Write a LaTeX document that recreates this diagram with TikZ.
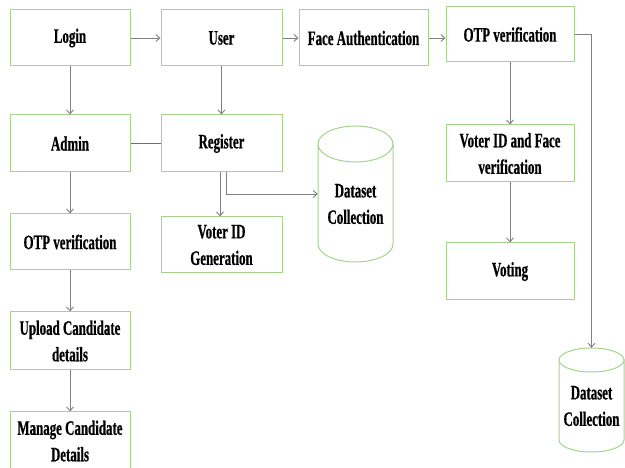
\documentclass[tikz,border=0pt]{standalone}
\usepackage{fontspec}
\setmainfont{Liberation Serif}[FakeStretch=0.63,BoldFeatures={FakeBold=0.6}]
\usetikzlibrary{arrows.meta,calc}
\definecolor{boxgreen}{HTML}{A9D18E}
\definecolor{linegray}{HTML}{808080}
\definecolor{darkgray}{HTML}{6F6F6F}
\begin{document}
\begin{tikzpicture}[x=1pt,y=1pt,
  box/.style={draw=boxgreen,line width=1pt,fill=white,minimum width=120pt,minimum height=56pt,inner sep=0pt,align=center,font=\bfseries\fontsize{20.5}{26.5}\selectfont},
  lbl/.style={inner sep=0pt,align=center,font=\bfseries\fontsize{20.5}{26.5}\selectfont},
  cylzone/.style={inner sep=0pt,minimum width=#1},
  cyl/.style={draw=boxgreen,line width=1pt,fill=white},
  arr/.style={draw=linegray,line width=0.9pt,-{Straight Barb[length=4pt,width=7pt]}},
  ln/.style={draw=darkgray,line width=1.1pt}]
\useasboundingbox (0,0) rectangle (625,-468);
\fill[white] (0,0) rectangle (625,-468);

% boxes
\node[box] (login) at (70,-38) {Login};
\node[box,minimum width=121pt] (user) at (221.5,-38) {User};
\node[box,minimum width=129pt] (face) at (363.5,-38) {Face Authentication};
\node[box,minimum width=128pt,minimum height=55pt] (otp2) at (510,-34.5) {OTP verification};
\node[box,minimum height=57pt] (admin) at (70,-143.5) {Admin};
\node[box,minimum width=121pt,minimum height=57pt] (register) at (221.5,-143.5) {Register};
\node[box,minimum width=121pt] (vid) at (221.5,-245) {Voter ID\\Generation};
\node[box] (otp1) at (70,-242) {OTP verification};
\node[box,minimum height=58pt] (upload) at (70,-341) {Upload Candidate\\details};
\node[box,minimum height=58pt] (manage) at (70,-441) {Manage Candidate\\Details};
\node[box,minimum width=128pt,minimum height=57pt] (vface) at (510,-153.5) {Voter ID and Face\\verification};
\node[box,minimum width=128pt,minimum height=57pt] (voting) at (510,-271.5) {Voting};

% cylinder 1 (x 318-393, y 126-262)
\node[cylzone=75pt,minimum height=136pt] (db1) at (355.5,-194) {};
\path[cyl] (318,-144) -- (318,-244) arc[start angle=180,end angle=360,x radius=37.5,y radius=18] -- (393,-144) -- cycle;
\draw[cyl] (355.5,-144) ellipse[x radius=37.5,y radius=18];
\node[lbl] (db1t) at (355.5,-204) {Dataset\\Collection};

% cylinder 2 (x 559-624, y 348-452)
\node[cylzone=65pt,minimum height=104pt] (db2) at (591.5,-400) {};
\path[cyl] (559,-360) -- (559,-440) arc[start angle=180,end angle=360,x radius=32.5,y radius=12] -- (624,-360) -- cycle;
\draw[cyl] (591.5,-360) ellipse[x radius=32.5,y radius=12];
\node[lbl] (db2t) at (591.5,-406) {Dataset\\Collection};

% connectors
\draw[arr] (login.east) -- (user.west);
\draw[arr] (user.east) -- (face.west);
\draw[arr] (face.east) -- (face.east -| otp2.west);
\draw[arr] (login.south) -- (admin.north);
\draw[arr] (user.south) -- (register.north);
\draw[ln] (admin.east) -- (register.west);
\draw[arr] ($(register.south)+(-1.5,0)$) -- ($(vid.north)+(-1.5,0)$);
\draw[arr] ($(register.south)+(4.5,0)$) |- (db1.west);
\draw[arr] (admin.south) -- (otp1.north);
\draw[arr] (otp1.south) -- (upload.north);
\draw[arr] (upload.south) -- (manage.north);
\draw[arr] (otp2.south) -- (vface.north);
\draw[arr] (vface.south) -- (voting.north);
\draw[arr] (otp2.east) -| (db2.north);
\end{tikzpicture}
\end{document}
